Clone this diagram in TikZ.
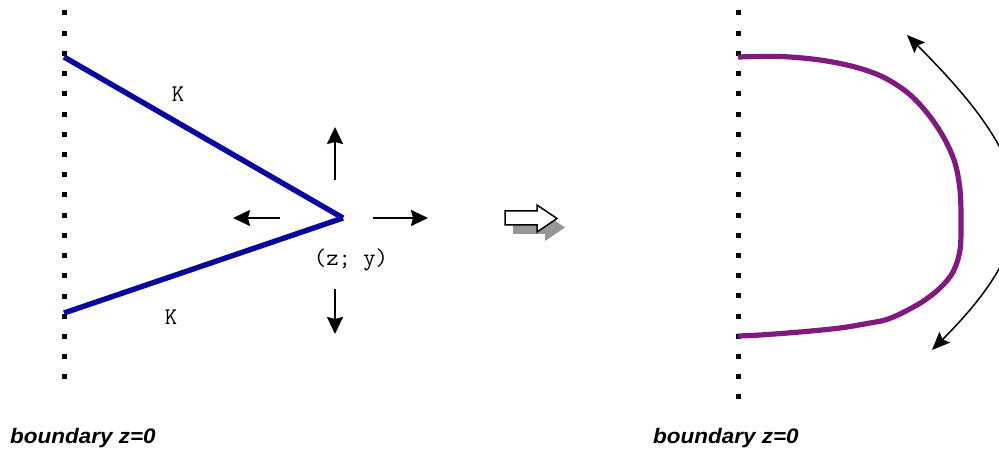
\documentclass[tikz,border=0pt]{standalone}
\usepackage{fontspec}
\newfontfamily\labsans{Liberation Sans}
\usetikzlibrary{arrows.meta}
\definecolor{kblue}{RGB}{8,8,160}
\definecolor{kpurple}{RGB}{128,26,128}
\definecolor{shadowgray}{RGB}{150,150,150}
\tikzset{
  dotsq/.style={fill=black},
  crack/.style={kblue,line width=5.4pt,line cap=butt},
  front/.style={kpurple,line width=5.2pt,line cap=butt,line join=round},
  growarrow/.style={line width=1.8pt,-{Stealth[length=17pt,width=16pt,inset=2pt]}},
  bendarrow/.style={line width=1.5pt,{Stealth[length=18pt,width=15pt,inset=3pt]}-{Stealth[length=18pt,width=15pt,inset=3pt]}},
  klabel/.style={font=\ttfamily\fontsize{24}{26}\selectfont,inner sep=0pt},
  blabel/.style={font=\labsans\bfseries\itshape\fontsize{21}{24}\selectfont,inner sep=0pt,anchor=base west},
}
\begin{document}
\begin{tikzpicture}[x=1pt,y=-1pt]
\clip (0,0) rectangle (999,449);
\fill[white] (0,0) rectangle (999,449);
% dotted boundaries
\foreach \i in {0,...,18} \fill[dotsq] ({64-2.5},{13+\i*20.22-2.5}) rectangle ++(5,5);
\foreach \i in {0,...,19} \fill[dotsq] ({738-2.5},{13+\i*20.21-2.5}) rectangle ++(5,5);
% crack
\coordinate (a) at (64,57);
\coordinate (b) at (64,313);
\coordinate (v) at (343,218);
\draw[crack] (a) -- (v);
\draw[crack] (b) -- (v);
\node[klabel] (k1) at (178,94) {K};
\node[klabel] (k2) at (171,317) {K};
\node[klabel] (zy) at (351,260) {(z; y)};
% growth arrows
\coordinate (us) at (335,180); \coordinate (ue) at (335,127);
\coordinate (ds) at (335,289); \coordinate (de) at (335,334);
\coordinate (ls) at (280,218); \coordinate (le) at (233,218);
\coordinate (rs) at (373,218); \coordinate (re) at (428,218);
\draw[growarrow] (us) -- (ue);
\draw[growarrow] (ds) -- (de);
\draw[growarrow] (ls) -- (le);
\draw[growarrow] (rs) -- (re);
% hollow arrow with shadow
\fill[shadowgray] (513,220) -- (545,220) -- (545,214) -- (565,227.5) -- (545,241) -- (545,234) -- (513,234) -- cycle;
\draw[line width=1.5pt,fill=white,line join=miter] (505,211) -- (537,211) -- (537,205) -- (557,218.5) -- (537,232) -- (537,225) -- (505,225) -- cycle;
% purple front
\draw[front] plot[smooth,tension=0.55] coordinates {(738,57) (780,56.5) (820,60) (855,67) (883,77) (908,93) (928,114) (944,138) (955,163) (960,190) (961,220) (960,250) (953,272) (940,288) (922,302) (900,314) (885,320) (870,323) (840,328) (800,332) (760,335) (738,336)};
% bending arrow
\coordinate (ct) at (907,35);
\coordinate (cb) at (932,350);
\draw[bendarrow] (ct) .. controls (1037,165) and (1052,230) .. (cb);
% labels
\node[blabel] (bl) at (10,443) {\scalebox{1.07}[1]{boundary z=0}};
\node[blabel] (br) at (653,443) {\scalebox{1.07}[1]{boundary z=0}};
\end{tikzpicture}
\end{document}
